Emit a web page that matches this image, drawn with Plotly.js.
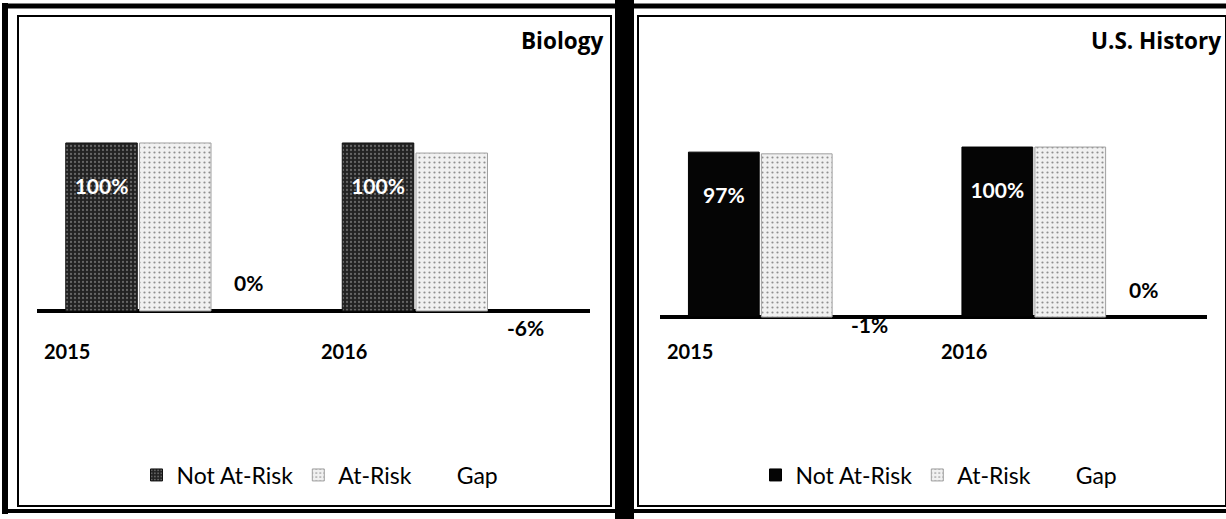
<!DOCTYPE html>
<html>
<head>
<meta charset="utf-8">
<script src="https://cdn.plot.ly/plotly-3.0.1.min.js"></script>
<style>html,body{margin:0;padding:0;background:#fff;}#chart{width:1226px;height:519px;}</style>
</head>
<body>
<div id="chart"></div>
<script>
// ---- data ----
const categories = ['2015', '2016'];
const seriesNames = ['Not At-Risk', 'At-Risk', 'Gap'];
const panelTitles = ['Biology', 'U.S. History'];
const bioNotAtRisk = [100, 100];
const bioAtRisk = [100, 94];
const bioGap = [0, -6];
const hisNotAtRisk = [97, 100];
const hisAtRisk = [96, 100];
const hisGap = [-1, 0];

const W = 1226, H = 519;
const px = v => v / W;
const py = v => 1 - v / H;
const FONT = 'Lato, Open Sans, sans-serif';
const TITLE_FONT = 'Open Sans, Noto Sans, sans-serif';
const BARGAP = 0.2;
const pct = v => String(v) + '%';

function panelTraces(xa, ya, leg, notAt, at, gap, darkPattern) {
  const notMarker = darkPattern
    ? {color: '#222', pattern: {shape: '.', bgcolor: '#222', fgcolor: '#666', size: 4, solidity: 0.25}, line: {color: '#111', width: 1}}
    : {color: '#050505', line: {color: '#000', width: 1}};
  return [
    {type: 'bar', name: seriesNames[0], x: categories, y: notAt, xaxis: xa, yaxis: ya, legend: leg,
     marker: notMarker, text: notAt.map(pct),
     texttemplate: '&nbsp;<br>%{text}', textposition: 'inside', insidetextanchor: 'end',
     textfont: {family: FONT, size: 21, color: '#ffffff', weight: 700}, hoverinfo: 'skip'},
    {type: 'bar', name: seriesNames[1], x: categories, y: at, xaxis: xa, yaxis: ya, legend: leg,
     marker: {color: '#e8e8e8', pattern: {shape: '.', bgcolor: '#f1f1f1', fgcolor: '#8f8f8f', size: 5, solidity: 0.15},
              line: {color: '#a0a0a0', width: 1}},
     hoverinfo: 'skip'},
    {type: 'bar', name: seriesNames[2], x: categories, y: gap, xaxis: xa, yaxis: ya, legend: leg,
     marker: {color: 'rgba(0,0,0,0)', line: {width: 0}}, hoverinfo: 'skip'}
  ];
}

const data = [].concat(
  panelTraces('x', 'y', 'legend', bioNotAtRisk, bioAtRisk, bioGap, true),
  panelTraces('x2', 'y2', 'legend2', hisNotAtRisk, hisAtRisk, hisGap, false)
);

const xCommon = {type: 'category', range: [-0.5, 1.5], showticklabels: false, showgrid: false,
                 zeroline: false, showline: false, ticks: '', fixedrange: true};
const yCommon = {showticklabels: false, showgrid: false, zeroline: true, zerolinecolor: '#000',
                 zerolinewidth: 4, showline: false, ticks: '', fixedrange: true};
const yDomain = [py(400), py(60)];

const annotations = [];
function addPanelText(xref, yref, titleText, titleRight, gap) {
  annotations.push({xref: 'paper', yref: 'paper', x: px(titleRight), y: py(40), xanchor: 'right', yanchor: 'middle',
                    text: titleText, showarrow: false, font: {family: TITLE_FONT, size: 22.5, color: '#000', weight: 700}});
  categories.forEach((c, i) => {
    annotations.push({xref: xref, yref: 'paper', x: i - 0.5, y: py(351), xanchor: 'left', yanchor: 'middle',
                      xshift: 5, text: c, showarrow: false, font: {family: FONT, size: 20, color: '#000', weight: 700}});
  });
  // gap labels centred over the third (Gap) bar of each group
  const slot = (1 - BARGAP) / 3;
  gap.forEach((v, i) => {
    annotations.push({xref: xref, yref: yref, x: i - (1 - BARGAP) / 2 + 2.5 * slot, y: v,
                      xanchor: 'center', yanchor: 'middle', yshift: v < 0 ? -6 : 28,
                      text: pct(v), showarrow: false, font: {family: FONT, size: 21, color: '#000', weight: 700}});
  });
}
addPanelText('x', 'y', panelTitles[0], 605, bioGap);
addPanelText('x2', 'y2', panelTitles[1], 1223, hisGap);

const line = (x0, y0, x1, y1, w) => ({type: 'line', xref: 'paper', yref: 'paper', x0: px(x0), y0: py(y0), x1: px(x1), y1: py(y1),
                                      line: {color: '#000', width: w}, layer: 'above'});
const shapes = [
  line(5, 3, 5, 514, 6),
  line(2, 6, 1226, 6, 5),
  line(2, 511, 1226, 511, 4),
  {type: 'rect', xref: 'paper', yref: 'paper', x0: px(615), x1: px(634), y0: py(0), y1: py(519), fillcolor: '#000', line: {width: 0}},
  {type: 'rect', xref: 'paper', yref: 'paper', x0: px(18), x1: px(611), y0: py(16), y1: py(506), line: {color: '#000', width: 2}},
  {type: 'rect', xref: 'paper', yref: 'paper', x0: px(638), x1: px(1226), y0: py(16), y1: py(506), line: {color: '#000', width: 2}}
];

const legendCommon = {orientation: 'h', yanchor: 'middle', y: py(475), xanchor: 'center',
                      font: {family: FONT, size: 23, color: '#000'}, bgcolor: 'rgba(0,0,0,0)', itemwidth: 30,
                      itemclick: false, itemdoubleclick: false};

const layout = {
  width: W, height: H,
  margin: {l: 0, r: 0, t: 0, b: 0, pad: 0},
  paper_bgcolor: '#fff', plot_bgcolor: 'rgba(0,0,0,0)',
  barmode: 'group', bargap: BARGAP, bargroupgap: 0.03,
  showlegend: true,
  xaxis: Object.assign({}, xCommon, {domain: [px(37), px(590)], anchor: 'y'}),
  yaxis: Object.assign({}, yCommon, {domain: yDomain, range: [-53.0, 149.4], anchor: 'x'}),
  xaxis2: Object.assign({}, xCommon, {domain: [px(660), px(1207)], anchor: 'y2'}),
  yaxis2: Object.assign({}, yCommon, {domain: yDomain, range: [-48.8, 151.2], anchor: 'x2'}),
  legend: Object.assign({}, legendCommon, {x: px(320)}),
  legend2: Object.assign({}, legendCommon, {x: px(939)}),
  annotations: annotations,
  shapes: shapes,
  font: {family: FONT}
};

Plotly.newPlot('chart', data, layout, {displayModeBar: false, staticPlot: true});
</script>
</body>
</html>
